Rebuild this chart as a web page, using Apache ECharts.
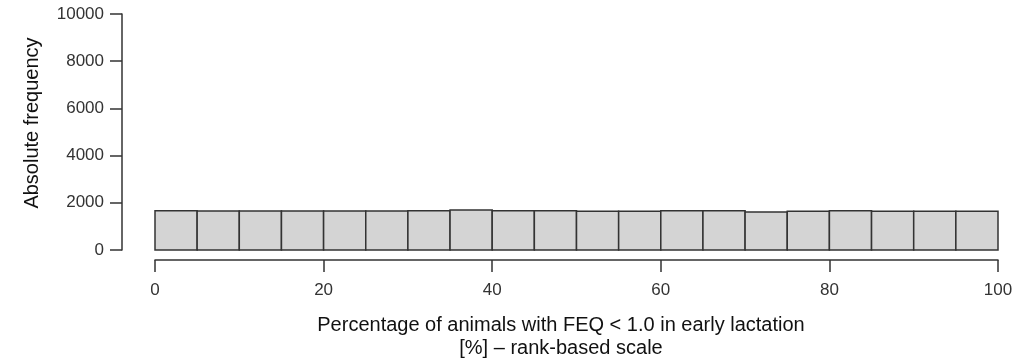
<!DOCTYPE html>
<html><head><meta charset="utf-8">
<script src="https://cdn.jsdelivr.net/npm/echarts@6/dist/echarts.min.js"></script>
<style>html,body{margin:0;padding:0;background:#fff}#c{width:1034px;height:364px}</style>
</head><body><div id="c"></div>
<script>
const binStarts = [0,5,10,15,20,25,30,35,40,45,50,55,60,65,70,75,80,85,90,95];
const binWidth = 5;
const counts = [1660,1650,1650,1655,1650,1655,1660,1700,1660,1660,1640,1640,1665,1665,1610,1645,1660,1640,1640,1645];
const xTicks = [0,20,40,60,80,100];
const yTicks = [0,2000,4000,6000,8000,10000];
const yTitle = 'Absolute frequency';
const xTitle = 'Percentage of animals with FEQ < 1.0 in early lactation\n[%] \u2013 rank-based scale';

const data = binStarts.map((s,i)=>[s, s+binWidth, counts[i]]);
const chart = echarts.init(document.getElementById('c'));
const axisColor = '#333';
const font = 'Liberation Sans, Arial, sans-serif';
chart.setOption({
  animation:false,
  backgroundColor:'#fff',
  grid:{left:155, right:36, top:14, bottom:114},
  xAxis:{type:'value', min:xTicks[0], max:xTicks[xTicks.length-1], interval:20, offset:10,
    axisLine:{show:true, onZero:false, lineStyle:{color:axisColor, width:1.5}},
    axisTick:{show:true, length:12, lineStyle:{color:axisColor, width:1.5}},
    axisLabel:{color:'#333', fontSize:17, fontFamily:font, margin:22},
    splitLine:{show:false}},
  yAxis:{type:'value', min:yTicks[0], max:yTicks[yTicks.length-1], interval:2000, offset:33,
    axisLine:{show:true, onZero:false, lineStyle:{color:axisColor, width:1.5}},
    axisTick:{show:true, length:12, lineStyle:{color:axisColor, width:1.5}},
    axisLabel:{color:'#333', fontSize:17, fontFamily:font, margin:18, formatter:v=>String(v)},
    splitLine:{show:false}},
  series:[{type:'custom', data:data,
    encode:{x:[0,1], y:2},
    renderItem:function(params, api){
      const p0 = api.coord([api.value(0), 0]);
      const p1 = api.coord([api.value(1), api.value(2)]);
      return {type:'rect', shape:{x:p0[0], y:p1[1], width:p1[0]-p0[0], height:p0[1]-p1[1]},
        style:{fill:'#d4d4d4', stroke:'#333', lineWidth:1.5}};
    }}],
  graphic:[
    {type:'text', x:32, y:123, rotation:Math.PI/2,
      style:{text:yTitle, fontSize:20, fontFamily:font, fill:'#111', align:'center', verticalAlign:'middle'}},
    {type:'text', x:561, y:337,
      style:{text:xTitle, fontSize:20, fontFamily:font, fill:'#111', align:'center', verticalAlign:'middle', lineHeight:23}}
  ]
});
</script></body></html>
